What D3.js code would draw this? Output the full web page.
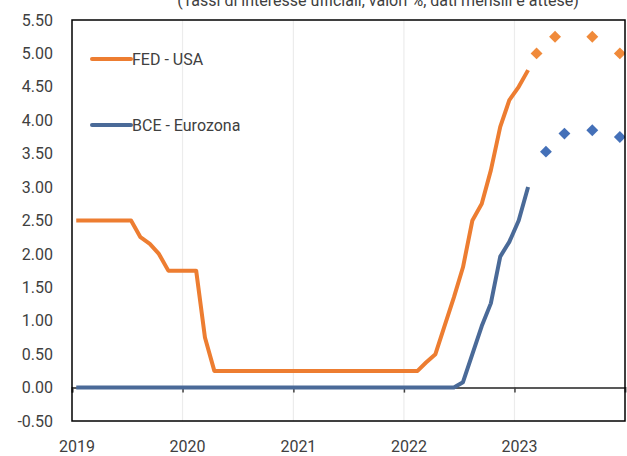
<!DOCTYPE html>
<html>
<head>
<meta charset="utf-8">
<script src="https://cdn.jsdelivr.net/npm/d3@7.9.0/dist/d3.min.js"></script>
<style>
  body { margin: 0; background: #fff; }
  svg text { font-family: Roboto, "Noto Sans", sans-serif; fill: #404040; }
</style>
</head>
<body>
<svg id="chart" width="627" height="456"></svg>
<script>
// monthly data from Jan 2019, plus expectations (attese)
const startMonth = new Date(2019, 0, 15);
const fedValues = [2.5, 2.5, 2.5, 2.5, 2.5, 2.5, 2.5, 2.25, 2.15, 2.0, 1.75, 1.75, 1.75, 1.75, 0.75,
  0.25, 0.25, 0.25, 0.25, 0.25, 0.25, 0.25, 0.25, 0.25, 0.25, 0.25, 0.25, 0.25, 0.25, 0.25, 0.25,
  0.25, 0.25, 0.25, 0.25, 0.25, 0.25, 0.25, 0.375, 0.5, 0.92, 1.35, 1.8, 2.5, 2.75, 3.25, 3.9, 4.3, 4.5, 4.75];
const bceValues = [0, 0, 0, 0, 0, 0, 0, 0, 0, 0, 0, 0, 0, 0, 0, 0, 0, 0, 0, 0, 0, 0, 0, 0, 0, 0, 0, 0,
  0, 0, 0, 0, 0, 0, 0, 0, 0, 0, 0, 0, 0, 0, 0.08, 0.5, 0.92, 1.26, 1.96, 2.18, 2.5, 3.0];
const fedExpMonths = [50, 52, 56, 59];
const fedExpValues = [5.0, 5.25, 5.25, 5.0];
const bceExpMonths = [51, 53, 56, 59];
const bceExpValues = [3.53, 3.8, 3.85, 3.75];
const yTicks = [-0.5, 0, 0.5, 1, 1.5, 2, 2.5, 3, 3.5, 4, 4.5, 5, 5.5];
const years = [2019, 2020, 2021, 2022, 2023];
const titleText = "(Tassi di interesse ufficiali, valori %, dati mensili e attese)";

const orange = "#ED7D31", blue = "#4A6A98";
const orangeDot = "#F08A3A", blueDot = "#4470B8";

const svg = d3.select("#chart");
const mLeft = 72, mRight = 625, mTop = 20, mBottom = 421;

const monthDate = i => d3.timeMonth.offset(startMonth, i);

const x = d3.scaleTime().domain([new Date(2019, 0, 1), new Date(2024, 0, 1)]).range([mLeft, mRight]);
const y = d3.scaleLinear().domain([-0.5, 5.5]).range([mBottom, mTop]);

svg.append("defs").append("clipPath").attr("id", "plotclip")
  .append("rect").attr("x", mLeft).attr("y", mTop).attr("width", mRight - mLeft).attr("height", mBottom - mTop);

// title (cut off at top, as in the source)
svg.append("text")
  .attr("x", 378).attr("y", 6)
  .attr("text-anchor", "middle")
  .style("font-size", "16px")
  .text(titleText);

// vertical gridlines at years
svg.append("g").selectAll("line").data(years.slice(1)).join("line")
  .attr("x1", d => x(new Date(d, 0, 1))).attr("x2", d => x(new Date(d, 0, 1)))
  .attr("y1", mTop).attr("y2", mBottom)
  .attr("stroke", "#ececec").attr("stroke-width", 1.2);

// zero axis with ticks
const xAxis = d3.axisBottom(x)
  .tickValues(years.map(d => new Date(d, 0, 1)))
  .tickSize(5).tickFormat("");
const gx = svg.append("g").attr("transform", `translate(0,${y(0)})`).call(xAxis);
gx.select(".domain").attr("stroke", "#595959").attr("stroke-width", 2);
gx.selectAll(".tick line").attr("stroke", "#404040").attr("stroke-width", 1.5);

// year labels
svg.append("g").selectAll("text").data(years).join("text")
  .attr("x", d => x(new Date(d, 0, 1)) + 5)
  .attr("y", 452)
  .attr("text-anchor", "middle")
  .style("font-size", "16px")
  .text(d => d);

// y labels
const yAxis = d3.axisLeft(y).tickValues(yTicks).tickSize(0).tickPadding(19)
  .tickFormat(d => d.toFixed(2));
const gy = svg.append("g").attr("transform", `translate(${mLeft},0)`).call(yAxis);
gy.select(".domain").remove();
gy.selectAll("text").style("font-size", "16px").style("font-family", "Roboto, sans-serif").attr("fill", "#404040");

// lines
const line = d3.line()
  .x((d, i) => x(monthDate(i)))
  .y(d => y(d));

const plot = svg.append("g").attr("clip-path", "url(#plotclip)");

plot.append("path").datum(bceValues)
  .attr("d", line).attr("fill", "none")
  .attr("stroke", blue).attr("stroke-width", 4).attr("stroke-linejoin", "round");

plot.append("path").datum(fedValues)
  .attr("d", line).attr("fill", "none")
  .attr("stroke", orange).attr("stroke-width", 4).attr("stroke-linejoin", "round");

// expectation diamonds
const diamond = d3.symbol().type(d3.symbolDiamond2).size(90);
plot.selectAll(".fedexp").data(fedExpValues).join("path")
  .attr("transform", (d, i) => `translate(${x(monthDate(fedExpMonths[i]))},${y(d)})`)
  .attr("d", diamond).attr("fill", orangeDot);
plot.selectAll(".bceexp").data(bceExpValues).join("path")
  .attr("transform", (d, i) => `translate(${x(monthDate(bceExpMonths[i]))},${y(d)})`)
  .attr("d", diamond).attr("fill", blueDot);

// frame
svg.append("rect")
  .attr("x", mLeft).attr("y", mTop).attr("width", mRight - mLeft).attr("height", mBottom - mTop)
  .attr("fill", "none").attr("stroke", "#000").attr("stroke-width", 1.5);

// legend
const legend = [
  { name: "FED - USA", color: orange, y: 59 },
  { name: "BCE - Eurozona", color: blue, y: 125 }
];
const lg = svg.append("g").selectAll("g").data(legend).join("g");
lg.append("line")
  .attr("x1", 92).attr("x2", 131)
  .attr("y1", d => d.y).attr("y2", d => d.y)
  .attr("stroke", d => d.color).attr("stroke-width", 4).attr("stroke-linecap", "round");
lg.append("text")
  .attr("x", 132).attr("y", d => d.y + 6)
  .style("font-size", "16px")
  .text(d => d.name);
</script>
</body>
</html>
